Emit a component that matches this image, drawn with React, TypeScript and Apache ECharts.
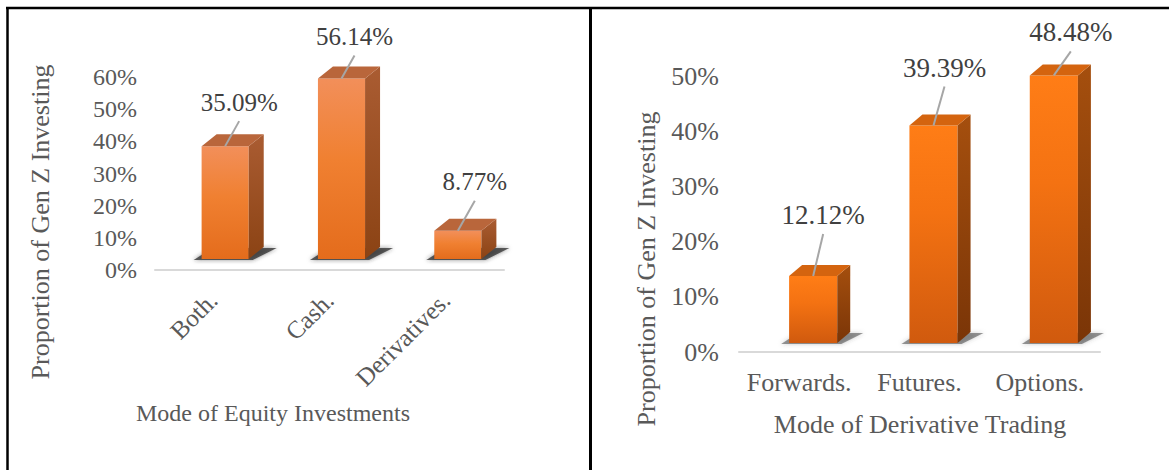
import React, { useEffect, useRef } from "react";
import * as echarts from "echarts";

// Survey shares (percent) for the two panels
const equityModes = ["Both.", "Cash.", "Derivatives."];
const equityShares = [35.09, 56.14, 8.77];
const derivativeModes = ["Forwards.", "Futures.", "Options."];
const derivativeShares = [12.12, 39.39, 48.48];

// Value axis ranges (percent)
const equityAxis = { min: 0, max: 60, step: 10 };
const derivativeAxis = { min: 0, max: 50, step: 10 };

// Axis titles
const yTitle = "Proportion of Gen Z Investing";
const equityXTitle = "Mode of Equity Investments";
const derivativeXTitle = "Mode of Derivative Trading";

const SERIF = "'Liberation Serif', 'Times New Roman', serif";
const TEXT_GREY = "#595959";
const LABEL_GREY = "#404040";

type BarLook = {
  widthRatio: number;
  shiftX: number;
  lift: number;
  depthX: number;
  depthY: number;
  front: [number, string][];
  side: [number, string][];
  top: string;
  shadow: string;
  labelSize: number;
  labelNudge: [number, number][];
};

const grad = (stops: [number, string][]) =>
  new echarts.graphic.LinearGradient(
    0,
    0,
    0,
    1,
    stops.map(([offset, color]) => ({ offset, color }))
  );

// Draws an extruded (pseudo-3D) column with a floor shadow and a
// data label connected by a leader line.
function columnRenderer(look: BarLook) {
  return (params: any, api: any) => {
    const idx = api.value(0);
    const val = api.value(1);
    const topPt = api.coord([idx, val]);
    const basePt = api.coord([idx, 0]);
    const band = api.size([1, 0])[0];
    const w = band * look.widthRatio;
    const cx = topPt[0] + look.shiftX;
    const x0 = cx - w / 2;
    const x1 = cx + w / 2;
    const yt = topPt[1] + look.lift;
    const yb = basePt[1] + look.lift;
    const dx = look.depthX;
    const dy = look.depthY;
    const [nx, ny] = look.labelNudge[params.dataIndex];
    const tx = cx + nx;
    const ty = yt + ny;

    return {
      type: "group",
      children: [
        {
          type: "polygon",
          shape: {
            points: [
              [x0 - 8, yb + 1],
              [x1 + 4, yb + 1],
              [x1 + dx + 13, yb + dy + 1],
              [x0 + dx - 4, yb + dy + 1],
            ],
          },
          style: {
            fill: look.shadow,
            shadowBlur: 4,
            shadowColor: look.shadow,
          },
        },
        {
          type: "rect",
          shape: { x: x0, y: yt, width: w, height: yb - yt },
          style: { fill: grad(look.front) },
        },
        {
          type: "polygon",
          shape: {
            points: [
              [x1, yb],
              [x1, yt],
              [x1 + dx, yt + dy],
              [x1 + dx, yb + dy],
            ],
          },
          style: { fill: grad(look.side) },
        },
        {
          type: "polygon",
          shape: {
            points: [
              [x0, yt],
              [x1, yt],
              [x1 + dx, yt + dy],
              [x0 + dx, yt + dy],
            ],
          },
          style: { fill: look.top },
        },
        {
          type: "line",
          shape: { x1: cx, y1: yt, x2: tx, y2: ty + 19 },
          style: { stroke: "#A6A6A6", lineWidth: 2 },
        },
        {
          type: "text",
          x: tx,
          y: ty,
          style: {
            text: `${val.toFixed(2)}%`,
            fill: LABEL_GREY,
            font: `${look.labelSize}px ${SERIF}`,
            align: "center",
            verticalAlign: "middle",
          },
        },
      ],
    };
  };
}

const equityLook: BarLook = {
  widthRatio: 0.405,
  shiftX: 12,
  lift: -11,
  depthX: 15,
  depthY: -12,
  front: [
    [0, "#F28F5A"],
    [0.45, "#F08031"],
    [1, "#E46C1C"],
  ],
  side: [
    [0, "#AA5C32"],
    [1, "#8B4314"],
  ],
  top: "#B9663B",
  shadow: "rgba(45,45,45,0.75)",
  labelSize: 25,
  labelNudge: [
    [14, -44],
    [13, -42],
    [17, -49],
  ],
};

const derivativeLook: BarLook = {
  widthRatio: 0.4,
  shiftX: 14,
  lift: -9,
  depthX: 13,
  depthY: -11,
  front: [
    [0, "#FF7D16"],
    [0.4, "#F47212"],
    [1, "#D05A0E"],
  ],
  side: [
    [0, "#A54F0E"],
    [1, "#7A3507"],
  ],
  top: "#D4640F",
  shadow: "rgba(70,70,70,0.55)",
  labelSize: 27,
  labelNudge: [
    [10, -61],
    [11, -58],
    [17, -43],
  ],
};

const titleText = (
  text: string,
  x: number,
  y: number,
  size: number,
  vertical: boolean
) => ({
  type: "text",
  x,
  y,
  rotation: vertical ? Math.PI / 2 : 0,
  style: {
    text,
    fill: TEXT_GREY,
    font: `${size}px ${SERIF}`,
    align: "center",
    verticalAlign: "middle",
  },
});

export default function App() {
  const ref = useRef<HTMLDivElement>(null);

  useEffect(() => {
    if (!ref.current) return;
    const chart = echarts.init(ref.current, undefined, { renderer: "svg" });

    const valueAxis = (
      gridIndex: number,
      range: { min: number; max: number; step: number },
      size: number,
      margin: number
    ) => ({
      type: "value",
      gridIndex,
      min: range.min,
      max: range.max,
      interval: range.step,
      axisLine: { show: false },
      axisTick: { show: false },
      splitLine: { show: false },
      axisLabel: {
        formatter: "{value}%",
        color: TEXT_GREY,
        fontFamily: SERIF,
        fontSize: size,
        margin,
      },
    });

    chart.setOption({
      animation: false,
      backgroundColor: "#ffffff",
      grid: [
        { left: 155, top: 77, width: 349, height: 193 },
        { left: 739, top: 76, width: 361, height: 276 },
      ],
      xAxis: [
        {
          type: "category",
          gridIndex: 0,
          data: equityModes,
          axisLine: { lineStyle: { color: "#D9D9D9", width: 2 } },
          axisTick: { show: false },
          axisLabel: {
            interval: 0,
            rotate: 45,
            margin: 26,
            color: TEXT_GREY,
            fontFamily: SERIF,
            fontSize: 25,
          },
        },
        {
          type: "category",
          gridIndex: 1,
          data: derivativeModes,
          axisLine: { lineStyle: { color: "#D9D9D9", width: 2 } },
          axisTick: { show: false },
          axisLabel: {
            interval: 0,
            margin: 17,
            color: TEXT_GREY,
            fontFamily: SERIF,
            fontSize: 26,
          },
        },
      ],
      yAxis: [
        valueAxis(0, equityAxis, 24, 18),
        valueAxis(1, derivativeAxis, 26, 20),
      ],
      series: [
        {
          type: "custom",
          xAxisIndex: 0,
          yAxisIndex: 0,
          clip: false,
          encode: { x: 0, y: 1 },
          data: equityShares.map((v, i) => [i, v]),
          renderItem: columnRenderer(equityLook),
        },
        {
          type: "custom",
          xAxisIndex: 1,
          yAxisIndex: 1,
          clip: false,
          encode: { x: 0, y: 1 },
          data: derivativeShares.map((v, i) => [i, v]),
          renderItem: columnRenderer(derivativeLook),
        },
      ],
      graphic: [
        {
          type: "line",
          shape: { x1: 6, y1: 8, x2: 1169, y2: 8 },
          style: { stroke: "#000", lineWidth: 2.5 },
        },
        {
          type: "line",
          shape: { x1: 7.5, y1: 7, x2: 7.5, y2: 470 },
          style: { stroke: "#000", lineWidth: 2.5 },
        },
        {
          type: "line",
          shape: { x1: 590.5, y1: 7, x2: 590.5, y2: 470 },
          style: { stroke: "#000", lineWidth: 3 },
        },
        titleText(yTitle, 40, 222, 26, true),
        titleText(equityXTitle, 273, 413, 24, false),
        titleText(yTitle, 646, 269, 26, true),
        titleText(derivativeXTitle, 920, 424, 26, false),
      ],
    });

    return () => chart.dispose();
  }, []);

  return (
    <div
      ref={ref}
      style={{
        position: "absolute",
        left: 0,
        top: 0,
        width: 1169,
        height: 470,
        background: "#fff",
      }}
    />
  );
}
